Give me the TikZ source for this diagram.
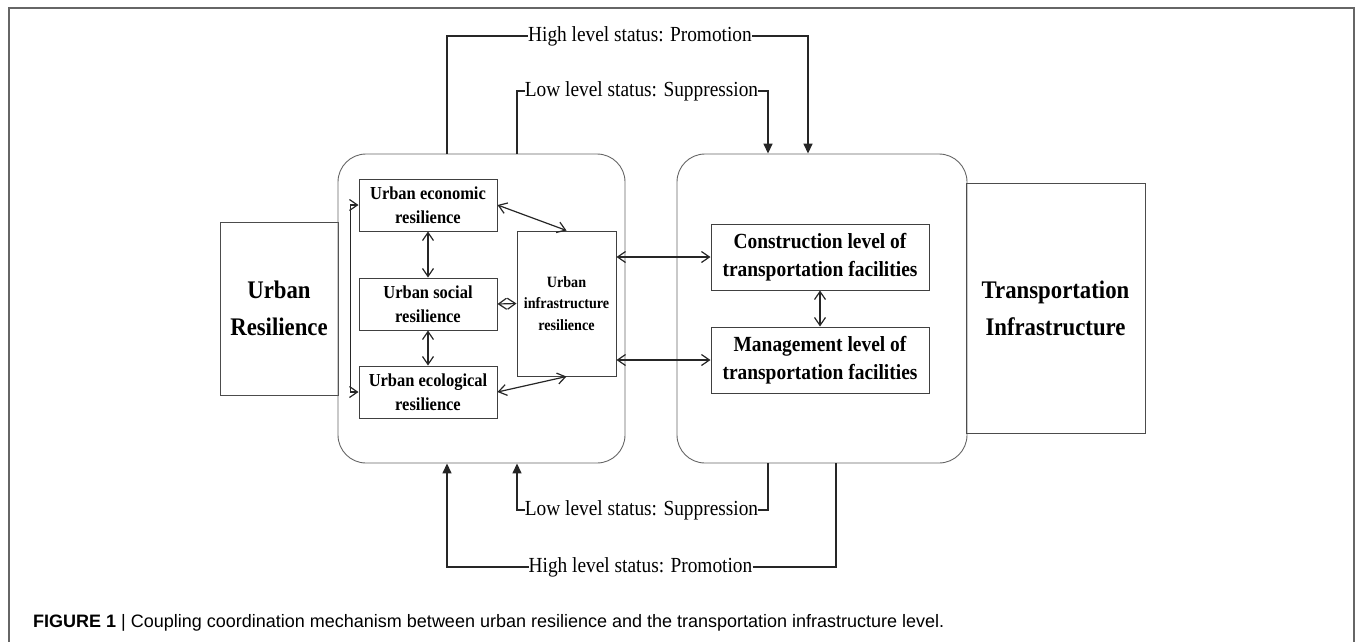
\documentclass[tikz,border=0pt]{standalone}
\usepackage{fontspec}
\setmainfont[FakeStretch=0.9]{Liberation Serif}
\setsansfont{Liberation Sans}
\usetikzlibrary{arrows.meta,positioning,calc}

\begin{document}
\begin{tikzpicture}[x=1pt, y=-1pt,
    panel/.style={draw=black!60, line width=0.9pt, rounded corners=28pt},
    outer/.style={draw=black!70, line width=1pt, align=center, font=\fontsize{25.3}{37}\selectfont\bfseries},
    box/.style={draw=black!75, line width=1pt, align=center, inner sep=0pt},
    lbl/.style={inner sep=0pt, font=\fontsize{21.5}{24}\selectfont},
    dbl/.style={{Straight Barb[length=8pt,width=11pt]}-{Straight Barb[length=8pt,width=11pt]}, line width=1.2pt, black!85},
    fb/.style={line width=1.5pt, black!85},
    fbarr/.style={fb, -{Triangle[length=10pt,width=9pt]}},
]
\useasboundingbox (0,0) rectangle (1355,641);

% Frame
\draw[black!60, line width=2pt] (9,650) -- (9,8) -- (1354,8) -- (1354,650);

% Two subsystems
\node[outer, minimum width=118pt, minimum height=173pt] (ur) at (279,308.5) {Urban\\Resilience};
\node[panel, minimum width=287pt, minimum height=309pt] (lbox) at (481.5,308.5) {};
\node[panel, minimum width=290pt, minimum height=309pt] (rbox) at (822,308.5) {};
\node[outer, minimum width=179pt, minimum height=250pt] (ti) at (1055.5,308) {Transportation\\Infrastructure};

% Urban resilience dimensions
\node[box, minimum width=138pt, minimum height=52pt, font=\fontsize{18.3}{24}\selectfont\bfseries] (econ) at (428,205) {Urban economic\\resilience};
\node[box, minimum width=138pt, minimum height=52pt, font=\fontsize{18.3}{24}\selectfont\bfseries] (social) at (428,304) {Urban social\\resilience};
\node[box, minimum width=138pt, minimum height=52pt, font=\fontsize{18.3}{24}\selectfont\bfseries] (ecol) at (428,392) {Urban ecological\\resilience};
\node[box, minimum width=99pt, minimum height=145pt, font=\fontsize{15.7}{21.5}\selectfont\bfseries] (infra) at (566.5,303.5) {Urban\\infrastructure\\resilience};

% Transportation dimensions
\node[box, minimum width=218pt, minimum height=66pt, font=\fontsize{21.6}{28}\selectfont\bfseries] (cons) at (820,257) {Construction level of\\transportation facilities};
\node[box, minimum width=218pt, minimum height=66pt, font=\fontsize{21.6}{28}\selectfont\bfseries] (mgmt) at (820,360) {Management level of\\transportation facilities};

% Inner links
\draw[dbl] (econ.west) -- ++(-8,0) |- (ecol.west);
\draw[dbl] (econ.south) -- (social.north);
\draw[dbl] (social.south) -- (ecol.north);
\draw[dbl] (social.east) -- (infra.west);
\draw[dbl] (econ.east) -- (infra.north);
\draw[dbl] (ecol.east) -- (infra.south);
\draw[dbl] (infra.east |- cons.west) -- (cons.west);
\draw[dbl] (infra.east |- mgmt.west) -- (mgmt.west);
\draw[dbl] (cons.south) -- (mgmt.north);

% Status labels
\node[lbl] (hitop) at (640,36) {High level status: Promotion};
\node[lbl] (lotop) at (641.5,91) {Low level status: Suppression};
\node[lbl] (lobot) at (641.5,510) {Low level status: Suppression};
\node[lbl] (hibot) at (640.5,567) {High level status: Promotion};

% Feedback loops
\draw[fb] (hitop.west) -| ([xshift=-34.5pt]lbox.north);
\draw[fbarr] (hitop.east) -| ([xshift=-14pt]rbox.north);
\draw[fb] (lotop.west) -| ([xshift=35.5pt]lbox.north);
\draw[fbarr] (lotop.east) -| ([xshift=-54pt]rbox.north);
\draw[fbarr] (lobot.west) -| ([xshift=35.5pt]lbox.south);
\draw[fb] (lobot.east) -| ([xshift=-54pt]rbox.south);
\draw[fbarr] (hibot.west) -| ([xshift=-34.5pt]lbox.south);
\draw[fb] (hibot.east) -| ([xshift=14pt]rbox.south);

% Caption
\node[anchor=base west, inner sep=0pt, font=\fontsize{18}{22}\selectfont\sffamily] (cap) at (33,627) {\textbf{FIGURE 1} | Coupling coordination mechanism between urban resilience and the transportation infrastructure level.};
\end{tikzpicture}
\end{document}
